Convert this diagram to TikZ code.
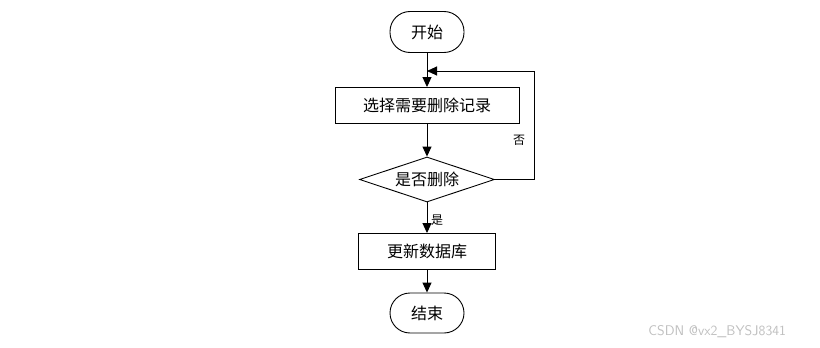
\documentclass[tikz,border=0pt]{standalone}
\usepackage{fontspec}
\newfontfamily\cjk{Noto Sans CJK SC}
\usetikzlibrary{shapes.geometric,arrows.meta,positioning}
\begin{document}
\begin{tikzpicture}[x=1pt,y=-1pt,line width=0.9pt,
  every node/.style={font=\cjk\fontsize{16}{18}\selectfont,inner sep=0pt},
  term/.style={draw,rectangle,rounded corners=20pt,minimum width=74pt,minimum height=41pt},
  proc/.style={draw,rectangle,minimum height=36pt},
  decide/.style={draw,diamond,aspect=3,minimum width=135pt,minimum height=45pt},
  tag/.style={font=\cjk\fontsize{12}{14}\selectfont},
  flow/.style={-{Triangle[length=10pt,width=9pt]}}]
\useasboundingbox (0,0) rectangle (820,348);
% flow chart: delete a record
\node[term] (start) at (427,32) {开始};
\node[proc,minimum width=184pt] (pick) at (427,105.5) {选择需要删除记录};
\node[decide] (ask) at (427,179.5) {是否删除};
\node[proc,minimum width=137pt] (upd) at (427,251.5) {更新数据库};
\node[term,minimum height=40pt] (stop) at (427,313) {结束};
\coordinate (back) at (427,71);
\coordinate (corner) at (534,71);
\draw[flow] (start) -- (pick);
\draw[flow] (pick) -- (ask);
\draw[flow] (ask) -- (upd);
\draw[flow] (upd) -- (stop);
% loop back
\draw[flow] (ask.east) -| (corner) -- (back);
\node[tag] (yes) at (437,220) {是};
\node[tag] (no) at (519,140) {否};
% watermark
\node[font=\sffamily\fontsize{14}{16}\selectfont,text=black!25,anchor=west] (mark) at (648,332) {CSDN @vx2\_BYSJ8341};
\end{tikzpicture}
\end{document}
